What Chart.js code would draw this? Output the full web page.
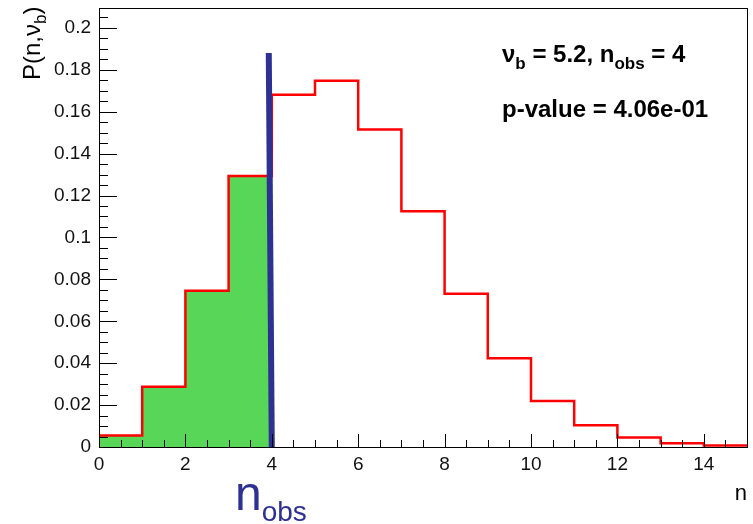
<!DOCTYPE html>
<html>
<head>
<meta charset="utf-8">
<script src="https://cdn.jsdelivr.net/npm/chart.js@4.4.1/dist/chart.umd.min.js"></script>
<style>
body { margin: 0; background: #fff; }
#wrap { width: 753px; height: 524px; }
</style>
</head>
<body>
<div id="wrap"><canvas id="grafico_poisson" width="753" height="524"></canvas></div>
<script>
// ----------------------- dados --------------------------------------------//
var bins = [0, 1, 2, 3, 4, 5, 6, 7, 8, 9, 10, 11, 12, 13, 14];
var probs = [0.0055, 0.0287, 0.0746, 0.1293, 0.1681, 0.1748, 0.1515, 0.1125, 0.0731, 0.0423, 0.0220, 0.0104, 0.0045, 0.0018, 0.0007];
var binMax = 15;
var nObs = 4;
var obsLineX = [4, 3.93];
var obsLineY = [0, 0.188];
var xTicks = [0, 2, 4, 6, 8, 10, 12, 14];
var xTickLabels = ['0', '2', '4', '6', '8', '10', '12', '14'];
var yTicks = [0, 0.02, 0.04, 0.06, 0.08, 0.1, 0.12, 0.14, 0.16, 0.18, 0.2];
var yTickLabels = ['0', '0.02', '0.04', '0.06', '0.08', '0.1', '0.12', '0.14', '0.16', '0.18', '0.2'];

var FONTE = '"Liberation Sans", Arial, sans-serif';

// histograma em degraus
var histPts = bins.map(function (b, i) { return { x: b, y: probs[i] }; });
histPts.push({ x: binMax, y: probs[probs.length - 1] });

// area verde (n < nObs)
var greenPts = [];
bins.forEach(function (b, i) { if (b < nObs) greenPts.push({ x: b, y: probs[i] }); });
greenPts.push({ x: nObs, y: probs[nObs - 1] });

var obsPts = obsLineX.map(function (x, i) { return { x: x, y: obsLineY[i] }; });

// ----------------------- moldura, ticks internos e textos --------------------//
var moldura = {
    id: 'moldura',
    afterDatasetsDraw: function (chart) {
        var c = chart.ctx, a = chart.chartArea;
        var xs = chart.scales.x, ys = chart.scales.y;
        c.save();
        c.strokeStyle = '#000';
        c.lineWidth = 1;
        c.beginPath();
        // ticks do eixo y (para dentro)
        for (var k = 0; k <= 41; k++) {
            var v = k * 0.005;
            var py = Math.round(ys.getPixelForValue(v)) + 0.5;
            var len = (k % 4 === 0) ? 18 : 9;
            c.moveTo(a.left, py); c.lineTo(a.left + len, py);
        }
        // ticks do eixo x
        for (var j = 0; j <= 30; j++) {
            var vx = j * 0.5;
            var px = Math.round(xs.getPixelForValue(vx)) + 0.5;
            var lx = (j % 4 === 0) ? 13 : 7;
            c.moveTo(px, a.bottom); c.lineTo(px, a.bottom - lx);
        }
        c.stroke();
        c.strokeRect(Math.round(a.left) + 0.5, Math.round(a.top) + 0.5,
            Math.round(a.right - a.left), Math.round(a.bottom - a.top));
        c.restore();
    },
    afterDraw: function (chart) {
        var c = chart.ctx;
        c.save();
        c.fillStyle = '#000';
        c.textBaseline = 'alphabetic';
        c.textAlign = 'left';

        // legenda superior direita
        var x = 502;
        var pecas = [
            ['\u03BD', 24, 0], ['b', 17, 7], [' = 5.2, n', 24, 0], ['obs', 17, 7], [' = 4', 24, 0]
        ];
        pecas.forEach(function (p) {
            c.font = 'bold ' + p[1] + 'px ' + FONTE;
            c.fillText(p[0], x, 62 + p[2]);
            x += c.measureText(p[0]).width;
        });
        c.font = 'bold 24px ' + FONTE;
        c.fillText('p-value = 4.06e-01', 502, 117);

        // titulo do eixo x
        c.font = '22px ' + FONTE;
        c.textAlign = 'right';
        c.fillText('n', 747, 500);

        // n_obs em azul
        c.textAlign = 'left';
        c.fillStyle = '#2e3192';
        c.font = '48px ' + FONTE;
        c.fillText('n', 235, 510);
        var w = c.measureText('n').width;
        c.font = '28px ' + FONTE;
        c.fillText('obs', 235 + w, 521);

        // titulo do eixo y (rotacionado)
        c.fillStyle = '#000';
        c.translate(40, 80);
        c.rotate(-Math.PI / 2);
        c.font = '24px ' + FONTE;
        c.fillText('P(n,\u03BD', 0, 0);
        var w2 = c.measureText('P(n,\u03BD').width;
        c.font = '17px ' + FONTE;
        c.fillText('b', w2, 6);
        var w3 = c.measureText('b').width;
        c.font = '24px ' + FONTE;
        c.fillText(')', w2 + w3, 0);
        c.restore();
    }
};

// ----------------------- grafico --------------------------------------------//
var ctx = document.getElementById('grafico_poisson').getContext('2d');
var grafico_poisson = new Chart(ctx, {
    type: 'line',
    data: {
        datasets: [{
            data: greenPts,
            stepped: true,
            fill: 'origin',
            backgroundColor: '#57d657',
            borderWidth: 0,
            pointRadius: 0,
            order: 3
        }, {
            data: histPts,
            stepped: true,
            fill: false,
            borderColor: '#ff0000',
            borderWidth: 2.5,
            pointRadius: 0,
            order: 2
        }, {
            data: obsPts,
            fill: false,
            borderColor: '#2e3192',
            borderWidth: 6,
            borderCapStyle: 'butt',
            pointRadius: 0,
            order: 1
        }]
    },
    options: {
        responsive: false,
        animation: false,
        events: [],
        layout: { padding: { top: 8, right: 6, left: 0, bottom: 0 } },
        plugins: { legend: { display: false }, tooltip: { enabled: false } },
        scales: {
            x: {
                type: 'linear',
                min: 0,
                max: binMax,
                afterBuildTicks: function (s) { s.ticks = xTicks.map(function (v) { return { value: v }; }); },
                afterFit: function (s) { s.height = 77; s.paddingLeft = 0; s.paddingRight = 0; },
                grid: { display: false, drawTicks: false },
                border: { display: true, color: '#000', width: 1 },
                ticks: {
                    autoSkip: false,
                    maxRotation: 0,
                    padding: 6,
                    color: '#111',
                    font: { family: FONTE, size: 19 },
                    callback: function (v) { return xTickLabels[xTicks.indexOf(v)]; }
                }
            },
            y: {
                type: 'linear',
                min: 0,
                max: 0.2095,
                afterBuildTicks: function (s) { s.ticks = yTicks.map(function (v) { return { value: v }; }); },
                afterFit: function (s) { s.width = 99; s.paddingTop = 0; s.paddingBottom = 0; },
                grid: { display: false, drawTicks: false },
                border: { display: true, color: '#000', width: 1 },
                ticks: {
                    autoSkip: false,
                    padding: 8,
                    color: '#111',
                    font: { family: FONTE, size: 19 },
                    callback: function (v) { return yTickLabels[yTicks.indexOf(v)]; }
                }
            }
        }
    },
    plugins: [moldura]
});
</script>
</body>
</html>
